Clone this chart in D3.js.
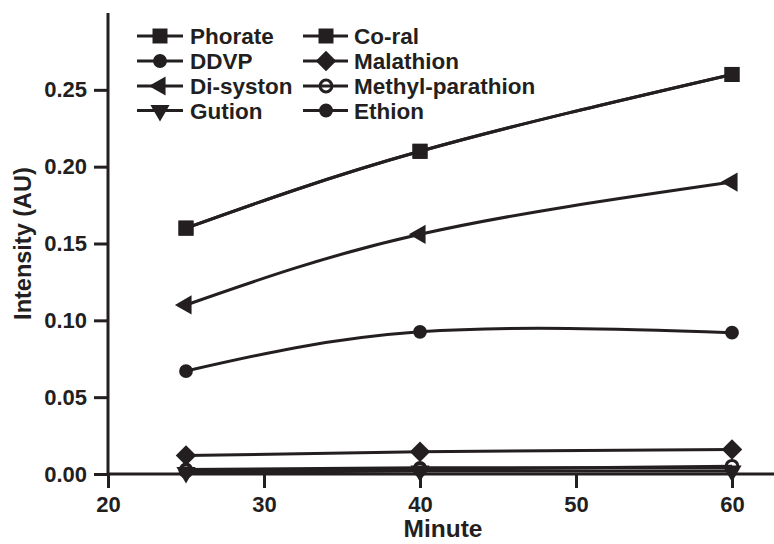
<!DOCTYPE html>
<html><head><meta charset="utf-8">
<script src="https://cdn.jsdelivr.net/npm/d3@7"></script>
<style>
html,body{margin:0;padding:0;background:#fff;}
svg{display:block;}
text{font-family:"Liberation Sans",Arial,sans-serif;font-weight:bold;fill:#231f20;}
</style></head>
<body>
<script>
// ---- data ----
const minutes = [25, 40, 60];
const seriesNames = ["Phorate","DDVP","Di-syston","Gution","Co-ral","Malathion","Methyl-parathion","Ethion"];
const phorate         = [0.160, 0.210, 0.260];
const ddvp            = [0.067, 0.0925, 0.092];
const disyston        = [0.110, 0.156, 0.190];
const gution          = [0.001, 0.002, 0.002];
const coral           = [0.160, 0.210, 0.260];
const malathion       = [0.012, 0.0145, 0.016];
const methylParathion = [0.002, 0.003, 0.005];
const ethion          = [0.003, 0.004, 0.004];
const xTicks = [20, 30, 40, 50, 60];
const yTicks = [0.00, 0.05, 0.10, 0.15, 0.20, 0.25];
const xLabel = "Minute";
const yLabel = "Intensity (AU)";

const seriesValues = [phorate, ddvp, disyston, gution, coral, malathion, methylParathion, ethion];
const markerTypes = ["square","circle","triLeft","triDown","square","diamond","openCircle","circle"];

const W = 774, H = 544;
const ink = "#231f20";
const svg = d3.select("body").append("svg").attr("width", W).attr("height", H);

const x = d3.scaleLinear().domain([20, 63]).range([108, 108 + 43 * 15.6]);
const y = d3.scaleLinear().domain([0, 0.30]).range([474, 13]);

// axes
const gx = svg.append("g").attr("transform", `translate(0,${y(0)})`)
  .call(d3.axisBottom(x).tickValues(xTicks).tickFormat(d3.format("d")).tickSize(14).tickPadding(8));
const gy = svg.append("g").attr("transform", `translate(${x(20)},0)`)
  .call(d3.axisLeft(y).tickValues(yTicks).tickFormat(d3.format(".2f")).tickSize(14).tickPadding(7));
[gx, gy].forEach(g => {
  g.select(".domain").attr("stroke", ink).attr("stroke-width", 3);
  g.selectAll(".tick line").attr("stroke", ink).attr("stroke-width", 3);
  g.selectAll(".tick text").attr("fill", ink).style("font-size", "22px")
    .style("font-family", "'Liberation Sans', Arial, sans-serif").style("font-weight", "bold");
});
gx.select(".domain").attr("d", `M${x(20)},0H${W}`);
gy.select(".domain").attr("d", `M0,${y(0)}V${y(0.30)}`);

// axis titles
svg.append("text").attr("x", 443).attr("y", 537).attr("text-anchor", "middle")
  .style("font-size", "24.5px").text(xLabel);
svg.append("text").attr("transform", `translate(31,${(y(0) + y(0.30)) / 2}) rotate(-90)`)
  .attr("text-anchor", "middle").style("font-size", "23.5px").text(yLabel);

// marker factory
function drawMarker(g, type, cx, cy) {
  if (type === "square") {
    g.append("path").attr("d", d3.symbol(d3.symbolSquare, 225)()).attr("transform", `translate(${cx},${cy})`).attr("fill", ink);
  } else if (type === "circle") {
    g.append("path").attr("d", d3.symbol(d3.symbolCircle, 150)()).attr("transform", `translate(${cx},${cy})`).attr("fill", ink);
  } else if (type === "openCircle") {
    g.append("path").attr("d", d3.symbol(d3.symbolCircle, 110)()).attr("transform", `translate(${cx},${cy})`)
      .attr("fill", "#fff").attr("stroke", ink).attr("stroke-width", 3);
  } else if (type === "diamond") {
    g.append("path").attr("d", d3.symbol(d3.symbolSquare, 210)()).attr("transform", `translate(${cx},${cy}) rotate(45)`).attr("fill", ink);
  } else if (type === "triLeft") {
    g.append("path").attr("d", d3.symbol(d3.symbolTriangle, 160)()).attr("transform", `translate(${cx},${cy}) rotate(-90)`).attr("fill", ink);
  } else if (type === "triDown") {
    g.append("path").attr("d", d3.symbol(d3.symbolTriangle, 160)()).attr("transform", `translate(${cx},${cy}) rotate(180)`).attr("fill", ink);
  }
}

// series
const line = d3.line().x(d => x(d[0])).y(d => y(d[1])).curve(d3.curveNatural);
const plot = svg.append("g");
for (let i = seriesValues.length - 1; i >= 0; i--) {
  const pts = minutes.map((m, j) => [m, seriesValues[i][j]]);
  const gS = plot.append("g");
  pts.forEach(p => drawMarker(gS, markerTypes[i], x(p[0]), y(p[1])));
  gS.append("path").datum(pts).attr("d", line).attr("fill", "none")
    .attr("stroke", ink).attr("stroke-width", 3);
}

// legend
const legRows = [36, 61, 86, 110.5];
const legCols = [{x0: 137, x1: 183, m: 160, t: 190}, {x0: 303, x1: 348, m: 326, t: 354}];
const leg = svg.append("g");
seriesNames.forEach((name, i) => {
  const c = legCols[Math.floor(i / 4)], ry = legRows[i % 4];
  const g = leg.append("g");
  drawMarker(g, markerTypes[i], c.m, ry);
  g.append("line").attr("x1", c.x0).attr("x2", c.x1).attr("y1", ry).attr("y2", ry)
    .attr("stroke", ink).attr("stroke-width", 3);
  g.append("text").attr("x", c.t).attr("y", ry).attr("dy", "0.36em").style("font-size", "22.5px").text(name);
});
</script>
</body></html>
